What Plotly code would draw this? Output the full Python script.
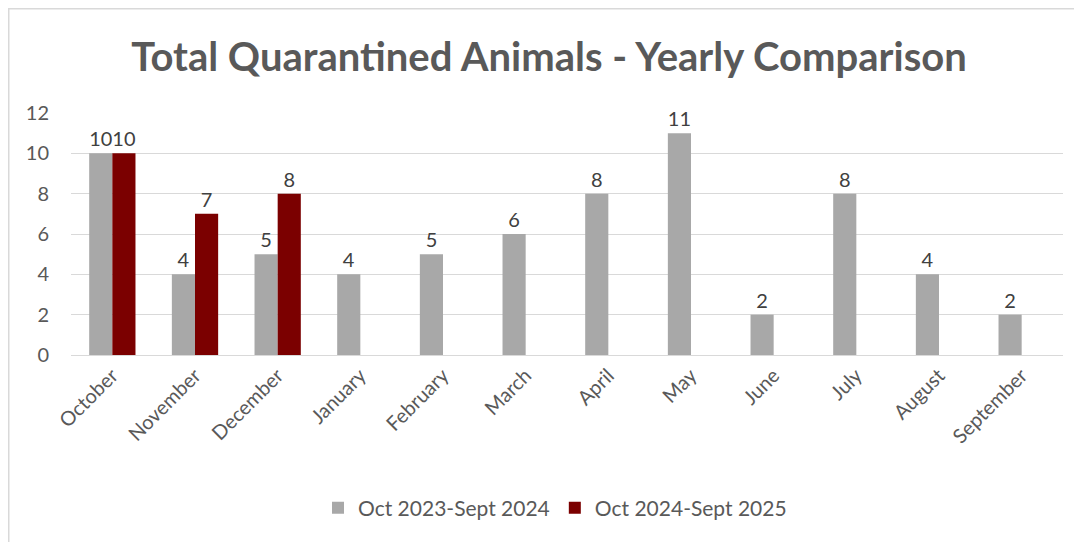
import plotly.graph_objects as go

months = ["October", "November", "December", "January", "February", "March",
          "April", "May", "June", "July", "August", "September"]
series1_name = "Oct 2023-Sept 2024"
series1 = [10, 4, 5, 4, 5, 6, 8, 11, 2, 8, 4, 2]
series2_name = "Oct 2024-Sept 2025"
series2 = [10, 7, 8, None, None, None, None, None, None, None, None, None]
y_ticks = [0, 2, 4, 6, 8, 10, 12]

# page body has an 8px margin, so work in figure coords offset by 8px
OFF = 8
W, H = 1082 - OFF, 542 - OFF
L, R, T = 71 - OFF, 1082 - 1063, 113 - OFF
B = H - (355 - OFF)
pw, ph = W - L - R, H - T - B

FONT = "Lato, 'Open Sans', sans-serif"

fig = go.Figure()
fig.add_trace(go.Bar(
    x=months, y=series1, name=series1_name,
    marker=dict(color="#a8a8a8", line=dict(width=0)),
    text=[str(v) for v in series1], textposition="outside",
    textfont=dict(size=20, color="#404040", family=FONT),
    cliponaxis=False,
))
fig.add_trace(go.Bar(
    x=months, y=series2, name=series2_name,
    marker=dict(color="#7b0000", line=dict(width=0)),
    text=[("" if v is None else str(v)) for v in series2], textposition="outside",
    textfont=dict(size=20, color="#404040", family=FONT),
    cliponaxis=False,
))

fig.update_layout(
    width=W, height=H,
    margin=dict(l=L, r=R, t=T, b=B, autoexpand=False),
    paper_bgcolor="white", plot_bgcolor="white",
    barmode="group", bargap=0.44, bargroupgap=0.0,
    title=dict(text="<b>Total Quarantined Animals - Yearly Comparison</b>",
               xref="container", x=(549 - OFF) / W, xanchor="center",
               y=1 - (57 - OFF) / H, yanchor="middle",
               font=dict(size=40, color="#595959", family=FONT)),
    font=dict(family=FONT, color="#595959"),
    legend=dict(orientation="h", x=(555 - 71) / 992, xanchor="center",
                y=(355 - 508) / ph, yanchor="middle",
                font=dict(size=21, color="#595959", family=FONT),
                itemwidth=30, traceorder="normal"),
    xaxis=dict(tickangle=-45, tickfont=dict(size=20, color="#595959"),
               showgrid=False, showline=True, linecolor="#d9d9d9", linewidth=1,
               ticks=""),
    yaxis=dict(range=[0, 12], tickvals=y_ticks, tickfont=dict(size=20, color="#595959"),
               showgrid=True, gridcolor="#d9d9d9", gridwidth=1, zeroline=False,
               showline=False, ticks="", ticklabelstandoff=21),
    shapes=[dict(type="rect", xref="paper", yref="paper",
                 x0=(0.75 - L) / pw, x1=(W + 20 - L) / pw,
                 y0=(ph + T - H - 20) / ph, y1=(ph + T - 0.75) / ph,
                 line=dict(color="#d9d9d9", width=1.5), fillcolor="rgba(0,0,0,0)",
                 layer="below")],
)

fig.write_html("out.html")
